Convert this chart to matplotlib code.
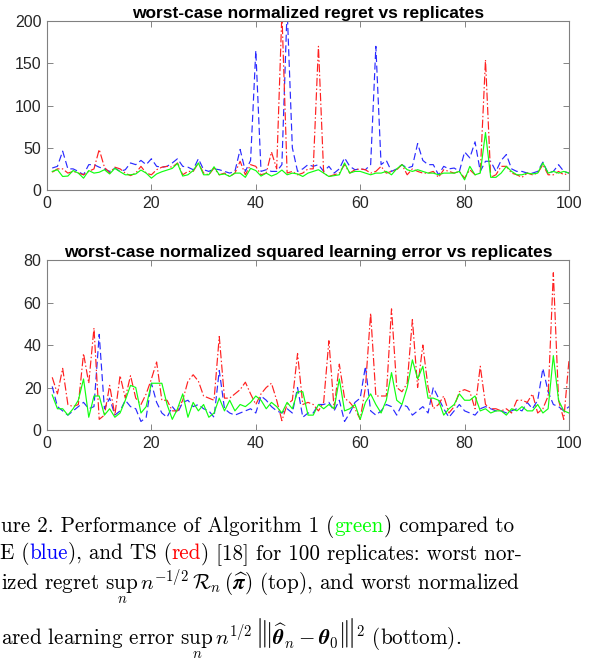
import numpy as np
import matplotlib
matplotlib.use("Agg")
import matplotlib.pyplot as plt

plt.rcParams['mathtext.fontset'] = 'cm'

replicates = np.arange(1, 101)

regret_green = [22, 24, 16, 16.5, 23, 20, 14, 23, 20, 21, 24, 19, 25.6, 21.6, 18, 18, 19, 23.6, 20, 14,
                19, 21.6, 23.6, 25.6, 31.5, 16.5, 18, 23, 32, 18, 18, 27.5, 18, 19, 16, 20, 20, 15, 25.6, 23,
                16.5, 20, 16.5, 19, 23.6, 18, 20, 19, 16, 20, 22, 24, 20, 16, 17, 18, 32, 20, 22, 22,
                20, 18, 20, 20, 22, 18, 25, 30, 24, 22, 24, 22, 20, 20, 18, 20, 20, 20, 22, 12,
                28, 18, 20, 68, 15, 15, 20, 28, 22, 18, 18, 20, 19, 20, 32, 20, 22, 20, 22, 20]
regret_blue = [26, 28, 46, 25, 25, 22, 18, 30, 30, 27, 25, 22, 26, 22, 24, 32, 30, 35, 30, 37,
               28, 27, 28, 32, 37, 28, 27, 24, 37, 24, 22, 25, 24, 22, 20, 22, 48, 22, 35, 165,
               22, 24, 22, 22, 30, 215, 50, 22, 25, 30, 28, 30, 22, 28, 20, 25, 38, 28, 24, 25,
               24, 30, 170, 30, 35, 22, 25, 30, 26, 28, 55, 35, 30, 30, 18, 28, 25, 26, 22, 45,
               38, 57, 22, 34, 34, 22, 35, 42, 25, 22, 22, 20, 20, 22, 33, 20, 22, 30, 22, 20]
regret_red = [21, 25, 25, 20, 22, 20, 18, 22, 25, 48, 27, 20, 27, 25, 20, 17, 20, 28, 20, 18,
              24, 27, 28, 27, 32, 18, 22, 22, 32, 20, 18, 26, 18, 20, 16, 20, 34, 18, 30, 28,
              18, 20, 45, 25, 210, 20, 22, 18, 20, 25, 25, 170, 20, 16, 18, 20, 30, 20, 24, 25,
              24, 20, 22, 28, 20, 22, 24, 30, 18, 25, 22, 20, 20, 22, 15, 24, 22, 20, 22, 14,
              24, 18, 20, 154, 15, 18, 28, 28, 20, 18, 15, 20, 18, 20, 30, 18, 18, 22, 18, 20]

error_green = [16.5, 10, 10, 7, 10, 14, 24, 6, 16, 16, 7, 10, 6, 8, 14, 21, 20, 8, 11, 22,
               22, 22, 12, 5, 10, 17, 6, 13, 9, 12, 6, 8, 15, 9, 14, 9, 12, 11, 13, 16,
               14, 10, 13, 11, 8, 13, 10, 18, 18, 7, 7, 12, 10, 12, 10, 24, 9, 10, 12, 5,
               13, 17, 12, 8, 14, 27, 14, 12, 20, 33, 24, 30, 15, 15, 14, 7, 10, 12, 17, 14,
               14, 16, 9, 10, 8, 9, 9, 7, 10, 9, 11, 9, 9, 12, 8, 10, 35, 14, 9, 8]
error_blue = [20.5, 11, 9, 7, 9, 11, 13, 10, 11, 45, 10, 15, 7, 9, 14, 11, 10, 4, 6, 22,
              13, 8, 6, 11, 8, 13, 14, 11, 12, 10, 9, 6, 28, 10, 8, 7, 8, 9, 10, 8,
              16, 14, 11, 9, 8, 10, 8, 20, 6, 8, 8, 12, 12, 13, 9, 14, 4, 8, 13, 15,
              30, 9, 7, 9, 12, 11, 7, 12, 11, 7, 9, 11, 8, 20, 15, 10, 6, 9, 12, 9,
              8, 7, 10, 11, 10, 9, 9, 8, 9, 10, 9, 13, 10, 14, 29, 18, 12, 11, 9, 11]
error_red = [24.8, 17, 29, 12, 11, 12, 36, 22, 48, 5, 7, 21, 7, 25.6, 15, 25.6, 15, 12, 17, 24,
             32, 14, 14, 9, 9, 14, 23, 26, 23, 16, 15, 14, 44, 15, 15, 17, 19, 22.5, 17, 12,
             17, 20, 22, 14, 4.4, 12, 14, 36, 12, 13, 12, 9, 13, 42, 10, 31, 15, 13, 10, 5,
             20, 55, 16, 16, 16, 57, 20, 18, 22, 52, 20, 40, 20, 10, 12, 16, 8, 11, 18, 19,
             18, 10, 30, 12, 10, 10, 9, 10, 8, 14, 14, 13, 17, 8, 10, 16, 74, 14, 5, 33]

titles = ["worst-case normalized regret vs replicates",
          "worst-case normalized squared learning error vs replicates"]
ylims = [(0, 200), (0, 80)]
yticks = [[0, 50, 100, 150, 200], [0, 20, 40, 60, 80]]
xticks = [0, 20, 40, 60, 80, 100]

W, H = 606, 669
fig = plt.figure(figsize=(W / 100, H / 100), dpi=100)

ax_rects = [[47 / W, 1 - 190 / H, 522 / W, 169 / H],
            [47 / W, 1 - 430 / H, 522 / W, 170 / H]]
datasets = [(regret_blue, regret_red, regret_green), (error_blue, error_red, error_green)]

tick_color = '#262626'
for k in range(2):
    ax = fig.add_axes(ax_rects[k])
    b, r, g = datasets[k]
    ax.plot(replicates, b, color='#2a2aff', ls=(0, (6, 3)), lw=0.85)
    ax.plot(replicates, r, color='#ff2020', ls=(0, (7, 2, 1.2, 2)), lw=0.85)
    ax.plot(replicates, g, color='#10ff10', ls='-', lw=0.85)
    ax.set_xlim(0, 100)
    ax.set_ylim(*ylims[k])
    ax.set_xticks(xticks)
    ax.set_yticks(yticks[k])
    ax.tick_params(direction='in', top=True, right=True, length=4, width=0.6,
                   color='#707070', labelsize=11.5, labelcolor=tick_color, pad=4)
    for lab in ax.get_xticklabels() + ax.get_yticklabels():
        lab.set_fontfamily('Liberation Sans')
    for s in ax.spines.values():
        s.set_color('#808080')
        s.set_linewidth(0.8)
    ax.set_title(titles[k], fontsize=12.5, fontweight='bold', family='Liberation Sans',
                 pad=2, color='black')

renderer = fig.canvas.get_renderer()
FS = 15.2


def draw_line(x0_px, baseline_px, pieces):
    x = x0_px / W
    y = 1 - baseline_px / H
    for txt, col in pieces:
        t = fig.text(x, y, txt, color=col, fontsize=FS, family='cmr10', va='baseline', ha='left')
        bb = t.get_window_extent(renderer)
        x += bb.width / W


draw_line(1, 532, [("ure 2. Performance of Algorithm 1 (", 'black'), ("green", '#00ff00'),
                   (") compared to", 'black')])
draw_line(0, 559, [("E (", 'black'), ("blue", '#0000ff'), ("), and TS (", 'black'),
                    ("red", '#ff0000'), (") [18] for 100 replicates: worst nor-", 'black')])
draw_line(1, 590, [(r"ized regret $\sup_n\, n^{-1/2}\mathcal{R}_n\,(\widehat{\boldsymbol{\pi}})$ (top), and worst normalized", 'black')])
draw_line(1, 645, [(r"ared learning error $\sup_n\, n^{1/2}\left|\!\left|\!\left|\widehat{\boldsymbol{\theta}}_n - \boldsymbol{\theta}_0\right|\!\right|\!\right|^2$ (bottom).", 'black')])

fig.savefig("out.png", dpi=100)
